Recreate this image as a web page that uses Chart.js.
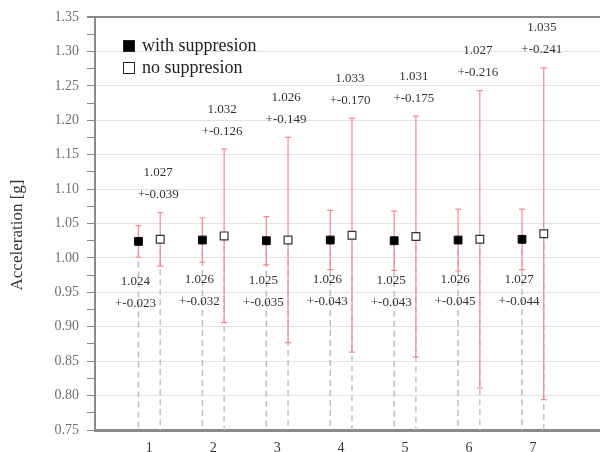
<!DOCTYPE html>
<html>
<head>
<meta charset="utf-8">
<script src="https://cdn.jsdelivr.net/npm/chart.js@4.4.0/dist/chart.umd.min.js"></script>
<style>
  html, body { margin: 0; padding: 0; background: #fff; overflow: hidden; }
  #wrap { width: 608px; height: 452px; position: relative; }
  canvas { display: block; }
</style>
</head>
<body>
<div id="wrap"><canvas id="myChart"></canvas></div>
<script>
// データ
const categories = [1, 2, 3, 4, 5, 6, 7];
const withMeans = [1.024, 1.026, 1.025, 1.026, 1.025, 1.026, 1.027];
const withErrors = [0.023, 0.032, 0.035, 0.043, 0.043, 0.045, 0.044];
const noMeans = [1.027, 1.032, 1.026, 1.033, 1.031, 1.027, 1.035];
const noErrors = [0.039, 0.126, 0.149, 0.170, 0.175, 0.216, 0.241];
const yTickLabels = ["0.75", "0.80", "0.85", "0.90", "0.95", "1.00", "1.05",
  "1.10", "1.15", "1.20", "1.25", "1.30", "1.35"];

const SERIF = "'Liberation Serif', 'DejaVu Serif', serif";
const OFFSET = 0.17;

const isMajor = (v) => yTickLabels.includes(v.toFixed(2)) && Math.abs(v * 20 - Math.round(v * 20)) < 1e-6;

// エラーバー・ドロップライン・ラベル・凡例
const errorPlugin = {
  id: "errorPlugin",
  beforeDatasetsDraw(chart) {
    const { ctx, scales: { x, y } } = chart;
    const bottom = chart.chartArea.bottom;
    const series = [
      { means: withMeans, errs: withErrors, dx: -OFFSET, drop: "#b4bdd6" },
      { means: noMeans, errs: noErrors, dx: OFFSET, drop: "#c4c4c4" },
    ];
    ctx.save();
    series.forEach((s) => {
      categories.forEach((c, i) => {
        const px = x.getPixelForValue(c + s.dx);
        const py = y.getPixelForValue(s.means[i]);
        // ドロップライン
        ctx.setLineDash([6, 4]);
        ctx.strokeStyle = s.drop;
        ctx.lineWidth = 1.5;
        ctx.beginPath();
        ctx.moveTo(px, py);
        ctx.lineTo(px, bottom);
        ctx.stroke();
        // エラーバー
        ctx.setLineDash([]);
        ctx.strokeStyle = "#f28a8a";
        ctx.lineWidth = 1.2;
        const top = y.getPixelForValue(s.means[i] + s.errs[i]);
        const bot = y.getPixelForValue(s.means[i] - s.errs[i]);
        ctx.beginPath();
        ctx.moveTo(px, top);
        ctx.lineTo(px, bot);
        ctx.moveTo(px - 3, top);
        ctx.lineTo(px + 3, top);
        ctx.moveTo(px - 3, bot);
        ctx.lineTo(px + 3, bot);
        ctx.stroke();
      });
    });
    ctx.restore();
  },
  afterDatasetsDraw(chart) {
    const { ctx, scales: { x, y } } = chart;
    ctx.save();
    ctx.fillStyle = "#333";
    ctx.font = `13px ${SERIF}`;
    ctx.textAlign = "center";
    ctx.textBaseline = "middle";
    categories.forEach((c, i) => {
      // no suppresion: エラーバー上端の上
      const nx = x.getPixelForValue(c + OFFSET) - 2;
      const ntop = y.getPixelForValue(noMeans[i] + noErrors[i]);
      ctx.fillText(noMeans[i].toFixed(3), nx, ntop - 40);
      ctx.fillText("+-" + noErrors[i].toFixed(3), nx, ntop - 18);
      // with suppresion: マーカーの下
      const wx = x.getPixelForValue(c - OFFSET) - 3;
      const wy = y.getPixelForValue(withMeans[i]);
      ctx.fillText(withMeans[i].toFixed(3), wx, wy + 40);
      ctx.fillText("+-" + withErrors[i].toFixed(3), wx, wy + 62);
    });

    // 凡例
    const legend = [
      { label: chart.data.datasets[0].label, fill: "#000" },
      { label: chart.data.datasets[1].label, fill: "#fff" },
    ];
    ctx.font = `18px ${SERIF}`;
    ctx.textAlign = "left";
    legend.forEach((l, i) => {
      const ly = 46 + i * 22;
      ctx.fillStyle = l.fill;
      ctx.strokeStyle = "#222";
      ctx.lineWidth = 1;
      ctx.fillRect(123.5, ly - 5.5, 11, 11);
      ctx.strokeRect(123.5, ly - 5.5, 11, 11);
      ctx.fillStyle = "#222";
      ctx.fillText(l.label, 142, ly);
    });

    // Y 軸タイトル
    ctx.translate(18, 235);
    ctx.rotate(-Math.PI / 2);
    ctx.textAlign = "center";
    ctx.font = `17px ${SERIF}`;
    ctx.fillStyle = "#333";
    ctx.fillText("Acceleration [g]", 0, 0);
    ctx.restore();
  },
};

const chartData = {
  datasets: [
    {
      label: "with suppresion",
      data: categories.map((c, i) => ({ x: c - OFFSET, y: withMeans[i] })),
      pointStyle: "rect",
      pointRadius: 5.5,
      backgroundColor: "#000",
      borderColor: "#000",
      borderWidth: 1,
    },
    {
      label: "no suppresion",
      data: categories.map((c, i) => ({ x: c + OFFSET, y: noMeans[i] })),
      pointStyle: "rect",
      pointRadius: 5.5,
      backgroundColor: "#fff",
      borderColor: "#333",
      borderWidth: 1.2,
    },
  ],
};

const chartConfig = {
  type: "scatter",
  data: chartData,
  plugins: [errorPlugin],
  options: {
    responsive: true,
    maintainAspectRatio: false,
    animation: false,
    layout: { padding: { top: 17, right: 0, left: 0, bottom: 0 } },
    plugins: {
      legend: { display: false },
      tooltip: { enabled: false },
    },
    scales: {
      x: {
        type: "linear",
        min: 0.15,
        max: 8.07,
        afterBuildTicks: (scale) => {
          scale.ticks = categories.map((c) => ({ value: c }));
        },
        afterFit: (scale) => {
          scale.height = 22;
          scale.paddingLeft = 0;
          scale.paddingRight = 0;
        },
        ticks: {
          color: "#333",
          font: { family: SERIF, size: 14 },
          padding: 2,
          maxRotation: 0,
          callback: (v) => String(v),
        },
        grid: { display: false },
        border: { display: true, color: "#8a8a8a", width: 3 },
      },
      y: {
        min: 0.75,
        max: 1.35,
        afterBuildTicks: (scale) => {
          const ticks = [];
          for (let k = 0; k <= 24; k++) ticks.push({ value: 0.75 + k * 0.025 });
          scale.ticks = ticks;
        },
        afterFit: (scale) => { scale.width = 95; },
        ticks: {
          color: "#707070",
          font: { family: SERIF, size: 14 },
          padding: 8,
          autoSkip: false,
          callback: (v) => (isMajor(v) ? v.toFixed(2) : ""),
        },
        grid: {
          color: (ctx) => {
            const v = ctx.tick ? ctx.tick.value : 0;
            if (Math.abs(v - 1.35) < 1e-6) return "#8a8a8a";
            return isMajor(v) ? "#e2e2e2" : "rgba(0,0,0,0)";
          },
          lineWidth: (ctx) => (ctx.tick && Math.abs(ctx.tick.value - 1.35) < 1e-6 ? 2 : 1),
          tickColor: "#8a8a8a",
          tickLength: 8,
        },
        border: { display: true, color: "#8a8a8a", width: 2 },
      },
    },
  },
};

const initChart = () => {
  const canvas = document.getElementById("myChart");
  if (!canvas) return;
  new Chart(canvas, chartConfig);
};

if (document.readyState === "loading") {
  document.addEventListener("DOMContentLoaded", initChart);
} else {
  initChart();
}
</script>
</body>
</html>
